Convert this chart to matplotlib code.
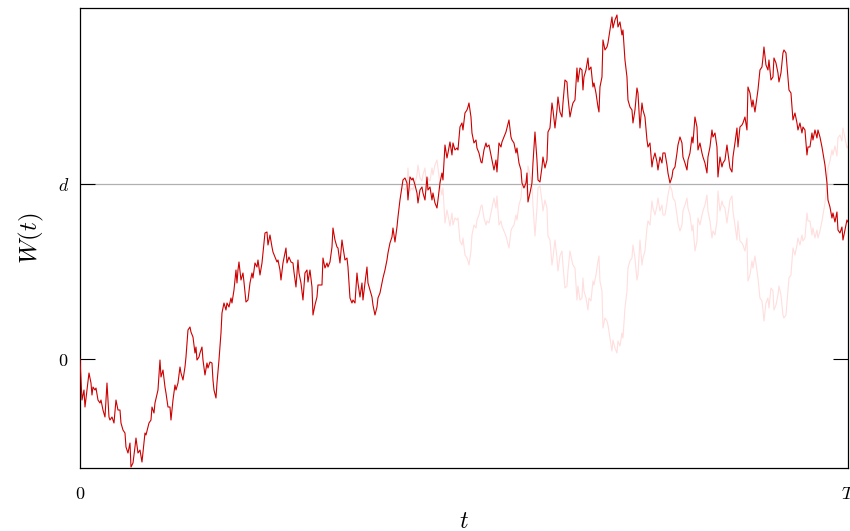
import numpy as np
import matplotlib
matplotlib.use("Agg")
import matplotlib.pyplot as plt

plt.rcParams['mathtext.fontset'] = 'cm'
plt.rcParams['font.family'] = 'serif'

# level d and horizon T (arbitrary units)
d = 1.75
T = 7.68

# sample path
t = [0.00, 0.02, 0.04, 0.05, 0.09, 0.11, 0.12, 0.13, 0.15, 0.16, 0.18, 0.20, 0.21, 0.23, 0.25,
     0.27, 0.29, 0.30, 0.32, 0.34, 0.36, 0.38, 0.40, 0.41, 0.43, 0.45, 0.46, 0.48, 0.50, 0.51,
     0.53, 0.55, 0.56, 0.58, 0.60, 0.62, 0.65, 0.66, 0.69, 0.71, 0.72, 0.74, 0.75, 0.78, 0.80,
     0.81, 0.83, 0.85, 0.86, 0.88, 0.90, 0.91, 0.93, 0.95, 0.96, 0.98, 1.00, 1.01, 1.03, 1.05,
     1.06, 1.08, 1.10, 1.11, 1.13, 1.15, 1.16, 1.17, 1.19,
     1.20, 1.22, 1.23, 1.25, 1.27, 1.28, 1.30, 1.32, 1.33, 1.34, 1.36, 1.37, 1.39, 1.41, 1.42,
     1.44, 1.46, 1.47, 1.49, 1.51, 1.52, 1.54, 1.56, 1.57, 1.58, 1.59, 1.61, 1.63, 1.64, 1.66,
     1.68, 1.70, 1.72, 1.73, 1.75, 1.77, 1.78, 1.80, 1.82, 1.83, 1.85, 1.87, 1.88, 1.90, 1.92,
     1.93, 1.95, 1.97, 1.98, 2.00, 2.01, 2.03, 2.04, 2.06, 2.07, 2.09, 2.11, 2.13, 2.14, 2.16,
     2.18, 2.19, 2.21, 2.23, 2.25, 2.27, 2.28, 2.30, 2.32, 2.33, 2.35, 2.37, 2.38,
     2.40, 2.42, 2.43, 2.45, 2.47, 2.48, 2.50, 2.52, 2.53, 2.55, 2.57, 2.58, 2.60, 2.62, 2.63,
     2.65, 2.67, 2.68, 2.70, 2.72, 2.73, 2.75, 2.77, 2.78, 2.80, 2.82, 2.83, 2.85, 2.87, 2.88,
     2.90, 2.92, 2.93, 2.95, 2.97, 2.98, 3.00, 3.02, 3.03, 3.05, 3.07, 3.08, 3.10, 3.12, 3.13,
     3.15, 3.17, 3.18, 3.20, 3.22, 3.23, 3.25, 3.27, 3.28, 3.30, 3.32, 3.33, 3.35, 3.37, 3.38,
     3.40, 3.42, 3.43, 3.45, 3.47, 3.48, 3.50, 3.52, 3.53, 3.55, 3.57, 3.58,
     3.60, 3.62, 3.63, 3.65, 3.67, 3.68, 3.70, 3.72, 3.73, 3.75, 3.77, 3.78, 3.80, 3.82, 3.83,
     3.85, 3.87, 3.88, 3.89, 3.91, 3.92, 3.94, 3.96, 3.97, 3.99, 4.01, 4.02, 4.04, 4.06, 4.07,
     4.09, 4.11, 4.12, 4.14, 4.16, 4.17, 4.19, 4.21, 4.22, 4.24, 4.26, 4.27, 4.29, 4.31, 4.32,
     4.34, 4.36, 4.37, 4.39, 4.41, 4.42, 4.44, 4.46, 4.47, 4.48, 4.50, 4.52, 4.53, 4.55, 4.57,
     4.58, 4.60, 4.62, 4.63, 4.65, 4.67, 4.68, 4.70, 4.72, 4.73, 4.75, 4.77, 4.78, 4.80, 4.82,
     4.83, 4.85, 4.87, 4.88,
     4.90, 4.92, 4.93, 4.95, 4.97, 4.98, 5.00, 5.02, 5.03, 5.04, 5.06, 5.08, 5.09, 5.11, 5.13,
     5.14, 5.16, 5.18, 5.19, 5.20, 5.22, 5.23, 5.25, 5.27, 5.28, 5.30, 5.32, 5.33, 5.35, 5.37,
     5.38, 5.40, 5.42, 5.43, 5.45, 5.47, 5.48, 5.50, 5.52, 5.53, 5.55, 5.57, 5.58, 5.60, 5.62,
     5.63, 5.65, 5.67, 5.68, 5.70, 5.72, 5.73, 5.75, 5.77, 5.78, 5.80, 5.82, 5.83, 5.85, 5.87,
     5.88, 5.90, 5.92, 5.93, 5.95, 5.97, 5.98, 6.00, 6.02, 6.03, 6.05, 6.07, 6.08, 6.10, 6.12,
     6.13, 6.15, 6.17, 6.18, 6.20, 6.22, 6.23, 6.25, 6.27, 6.28,
     6.30, 6.32, 6.33, 6.35, 6.37, 6.38, 6.40, 6.42, 6.43, 6.45, 6.47, 6.48, 6.50, 6.52, 6.53,
     6.55, 6.57, 6.58, 6.60, 6.62, 6.63, 6.65, 6.67, 6.68, 6.70, 6.72, 6.73, 6.75, 6.77, 6.78,
     6.80, 6.82, 6.83, 6.84, 6.86, 6.88, 6.89, 6.91, 6.93, 6.94, 6.96, 6.98, 6.99, 7.01, 7.03,
     7.04, 7.06, 7.08, 7.09, 7.11, 7.13, 7.15, 7.17, 7.18, 7.20, 7.22, 7.23, 7.25, 7.27, 7.28,
     7.30, 7.32, 7.33, 7.35, 7.37, 7.38, 7.40, 7.42, 7.43, 7.45, 7.47, 7.48, 7.50, 7.52, 7.53,
     7.55, 7.57, 7.58, 7.60, 7.62, 7.63, 7.65, 7.67, 7.68]

w = [0.00, -0.41, -0.31, -0.48, -0.14, -0.24, -0.36, -0.28, -0.31, -0.29, -0.41, -0.44, -0.41, -0.51, -0.58,
     -0.24, -0.58, -0.61, -0.58, -0.64, -0.41, -0.51, -0.51, -0.64, -0.71, -0.74, -0.88, -0.94, -0.84, -1.08,
     -1.04, -0.88, -0.79, -0.94, -0.91, -1.03, -0.74, -0.76, -0.64, -0.61, -0.48, -0.54, -0.44, -0.31, -0.01,
     -0.18, -0.11, -0.28, -0.34, -0.48, -0.48, -0.61, -0.41, -0.26, -0.31, -0.24, -0.08, -0.14, -0.21, -0.08,
     0.02, 0.29, 0.32, 0.27, 0.22, 0.06, 0.12, -0.01, 0.02,
     0.06, 0.12, -0.01, -0.16, -0.04, -0.09, -0.03, -0.04, -0.21, -0.31, -0.39, -0.24, -0.01, 0.26, 0.46,
     0.56, 0.49, 0.56, 0.52, 0.61, 0.56, 0.69, 0.89, 0.76, 0.89, 0.97, 0.79, 0.86, 0.77, 0.57,
     0.59, 0.76, 0.86, 0.81, 0.96, 0.92, 0.99, 0.84, 0.96, 1.06, 1.26, 1.27, 1.14, 1.24, 1.12,
     1.07, 1.02, 0.97, 0.99, 0.89, 0.79, 0.96, 1.01, 1.11, 0.96, 1.02, 0.97, 0.96, 0.87, 0.72,
     0.99, 0.86, 0.76, 0.59, 0.86, 0.89, 0.77, 0.89, 0.72, 0.44, 0.54, 0.62, 0.74,
     0.74, 0.74, 1.01, 0.91, 0.96, 0.92, 0.97, 1.12, 1.31, 1.19, 1.12, 1.11, 0.96, 1.19, 1.12,
     0.99, 1.01, 0.92, 0.61, 0.56, 0.59, 0.56, 0.86, 0.76, 0.62, 0.76, 0.59, 0.76, 0.92, 0.76,
     0.69, 0.62, 0.54, 0.44, 0.52, 0.61, 0.66, 0.76, 0.81, 0.89, 0.99, 1.06, 1.16, 1.22, 1.31,
     1.17, 1.32, 1.42, 1.59, 1.72, 1.79, 1.81, 1.76, 1.59, 1.82, 1.79, 1.81, 1.74, 1.66, 1.56,
     1.69, 1.72, 1.66, 1.59, 1.82, 1.69, 1.72, 1.59, 1.66, 1.56, 1.51, 1.59,
     1.76, 1.86, 1.79, 2.14, 2.01, 2.06, 2.17, 2.04, 2.16, 2.09, 2.11, 2.09, 2.32, 2.36, 2.29,
     2.46, 2.49, 2.52, 2.56, 2.42, 2.26, 2.16, 2.19, 2.11, 2.06, 1.97, 1.96, 2.09, 2.16, 2.12,
     2.14, 2.04, 1.99, 1.89, 1.99, 1.87, 2.16, 2.12, 2.17, 2.22, 2.27, 2.31, 2.39, 2.22, 2.19,
     2.16, 2.06, 2.11, 1.96, 1.89, 1.76, 1.71, 1.76, 1.86, 1.57, 1.66, 1.76, 1.96, 2.27, 1.99,
     1.79, 1.77, 1.92, 2.02, 1.91, 1.99, 2.27, 2.31, 2.56, 2.49, 2.31, 2.49, 2.62, 2.47, 2.42,
     2.56, 2.79, 2.77, 2.62,
     2.42, 2.52, 2.56, 2.59, 2.91, 2.77, 2.91, 2.89, 2.69, 2.82, 2.89, 3.01, 2.89, 2.92, 2.72,
     2.76, 2.66, 2.52, 2.47, 2.72, 2.82, 3.19, 3.09, 3.12, 3.16, 3.29, 3.42, 3.31, 3.39, 3.44,
     3.32, 3.37, 3.24, 3.29, 2.99, 2.82, 2.59, 2.52, 2.49, 2.36, 2.49, 2.71, 2.66, 2.31, 2.56,
     2.49, 2.42, 2.19, 2.12, 2.16, 1.92, 1.99, 2.06, 1.97, 1.89, 2.02, 1.96, 2.06, 2.06, 1.94,
     1.86, 1.76, 1.82, 1.89, 1.92, 2.06, 2.14, 2.22, 2.16, 2.02, 1.96, 1.89, 1.99, 2.06, 2.22,
     2.16, 2.42, 2.32, 2.09, 2.16, 2.06, 2.02, 1.96, 1.86, 2.02,
     2.12, 2.29, 2.22, 2.26, 2.12, 1.82, 2.02, 1.92, 1.96, 1.99, 2.14, 2.06, 1.91, 1.87, 2.02,
     2.16, 2.31, 2.12, 2.32, 2.34, 2.36, 2.42, 2.29, 2.72, 2.66, 2.52, 2.59, 2.47, 2.62, 2.69,
     2.89, 2.92, 3.01, 3.12, 2.94, 2.89, 2.99, 2.79, 2.82, 3.01, 2.96, 2.86, 2.77, 2.86, 3.06,
     3.09, 3.06, 2.82, 2.69, 2.66, 2.39, 2.46, 2.36, 2.29, 2.36, 2.26, 2.32, 2.29, 2.04, 2.12,
     2.12, 2.26, 2.19, 2.29, 2.21, 2.29, 2.22, 2.12, 2.06, 1.94, 1.76, 1.59, 1.52, 1.41, 1.46,
     1.37, 1.47, 1.29, 1.26, 1.32, 1.19, 1.29, 1.39, 1.37]

t = np.array(t)
w = np.array(w)

# first passage time and reflected path
tau = np.argmax(w >= d)
w_refl = 2 * d - w[tau:]

fig = plt.figure(figsize=(8.5, 5.31), dpi=100)
ax = fig.add_axes([0.0941, 0.1186, 0.9035, 0.8664])

ax.axhline(d, color='#b0b0b0', lw=0.9, zorder=1)
ax.plot(t[tau:], w_refl, color='#ffdede', lw=0.8, zorder=2)
ax.plot(t, w, color='#cc0000', lw=0.8, zorder=3)

ax.set_xlim(0, T)
ax.set_ylim(-1.09, 3.51)

ax.set_xticks([0, T])
ax.set_xticklabels(['$0$', '$T$'])
ax.set_yticks([0, d])
ax.set_yticklabels(['$0$', '$d$'])
ax.tick_params(axis='y', direction='in', length=11, width=0.8, left=True, right=True,
               labelsize=13, pad=8)
ax.tick_params(axis='x', length=0, labelsize=13, pad=12)

ax.set_xlabel('$t$', fontsize=17, labelpad=5)
ax.set_ylabel('$W(t)$', fontsize=18, labelpad=8)

for s in ax.spines.values():
    s.set_linewidth(0.9)

fig.savefig('out.png', dpi=100)
